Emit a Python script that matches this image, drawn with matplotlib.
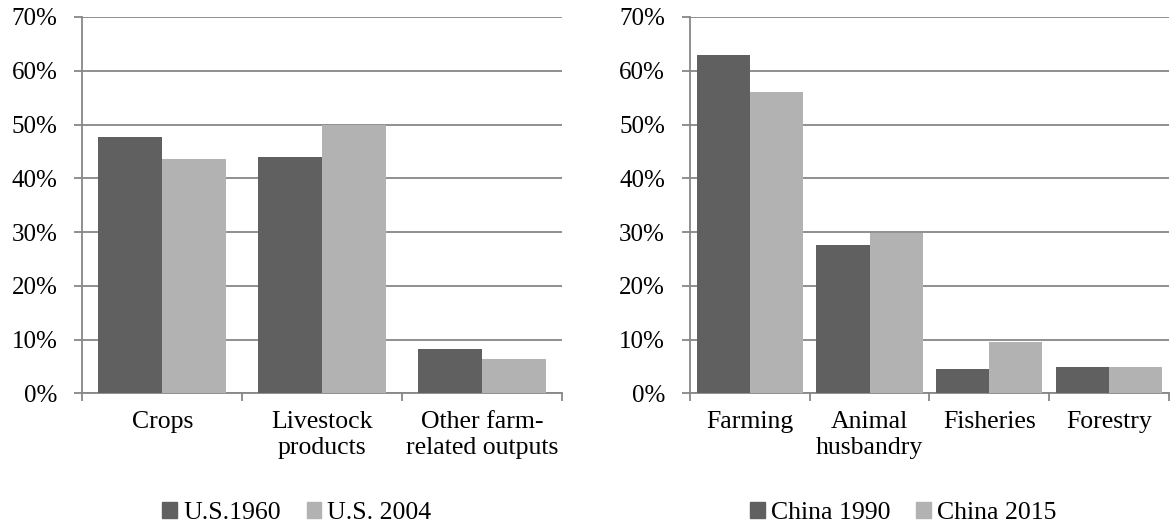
import matplotlib
matplotlib.use("Agg")
import matplotlib.pyplot as plt
from matplotlib.patches import Patch
import numpy as np

plt.rcParams['font.family'] = ['Liberation Serif', 'DejaVu Serif']

us_categories = ["Crops", "Livestock\nproducts", "Other farm-\nrelated outputs"]
us_1960 = [47.7, 44.0, 8.3]
us_2004 = [43.5, 50.0, 6.3]
us_labels = ["U.S.1960", "U.S. 2004"]

cn_categories = ["Farming", "Animal\nhusbandry", "Fisheries", "Forestry"]
cn_1990 = [62.9, 27.6, 4.6, 4.9]
cn_2015 = [56.0, 29.8, 9.5, 4.9]
cn_labels = ["China 1990", "China 2015"]

yticks = [0, 10, 20, 30, 40, 50, 60, 70]

DARK = "#606060"
LIGHT = "#b2b2b2"
GRID = "#878787"
FS_Y = 18
FS = 18.5

fig = plt.figure(figsize=(11.72, 5.29), dpi=100)
ax1 = fig.add_axes([0.0702, 0.2565, 0.4096, 0.7114])
ax2 = fig.add_axes([0.5887, 0.2565, 0.4087, 0.7114])


def draw(ax, cats, s1, s2, bw, labels, lx):
    n = len(cats)
    x = np.arange(n) + 0.5
    ax.bar(x - bw / 2, s1, width=bw, color=DARK, zorder=3, label=labels[0])
    ax.bar(x + bw / 2, s2, width=bw, color=LIGHT, zorder=3, label=labels[1])
    ax.set_xlim(0, n)
    ax.set_ylim(0, 70)
    ax.set_yticks(yticks)
    ax.set_yticklabels([f"{v}%" for v in yticks], fontsize=FS_Y)
    ax.yaxis.grid(True, color=GRID, lw=1.3, zorder=0)
    ax.set_axisbelow(True)
    ax.set_xticks(np.arange(n + 1))
    ax.set_xticklabels([])
    ax.set_xticks(x, minor=True)
    ax.set_xticklabels(cats, minor=True, fontsize=FS, linespacing=1.2)
    ax.tick_params(axis='x', which='major', direction='out', length=6,
                   color=GRID, width=1.3)
    ax.tick_params(axis='x', which='minor', length=0, pad=13)
    ax.tick_params(axis='y', length=6, color=GRID, width=1.3, pad=12,
                   direction='out')
    for s in ['top', 'right']:
        ax.spines[s].set_visible(False)
    for s in ['left', 'bottom']:
        ax.spines[s].set_color(GRID)
        ax.spines[s].set_linewidth(1.3)
    handles = [Patch(color=DARK), Patch(color=LIGHT)]
    fig.legend(handles, labels, loc='center', bbox_to_anchor=(lx, 0.031),
               ncol=2, frameon=False, fontsize=FS, handlelength=0.58,
               handleheight=0.58, handletextpad=0.23, columnspacing=1.0,
               borderpad=0, borderaxespad=0)


draw(ax1, us_categories, us_1960, us_2004, 0.4, us_labels, 0.2534)
draw(ax2, cn_categories, cn_1990, cn_2015, 0.444, cn_labels, 0.7705)

fig.savefig("out.png", dpi=100)
